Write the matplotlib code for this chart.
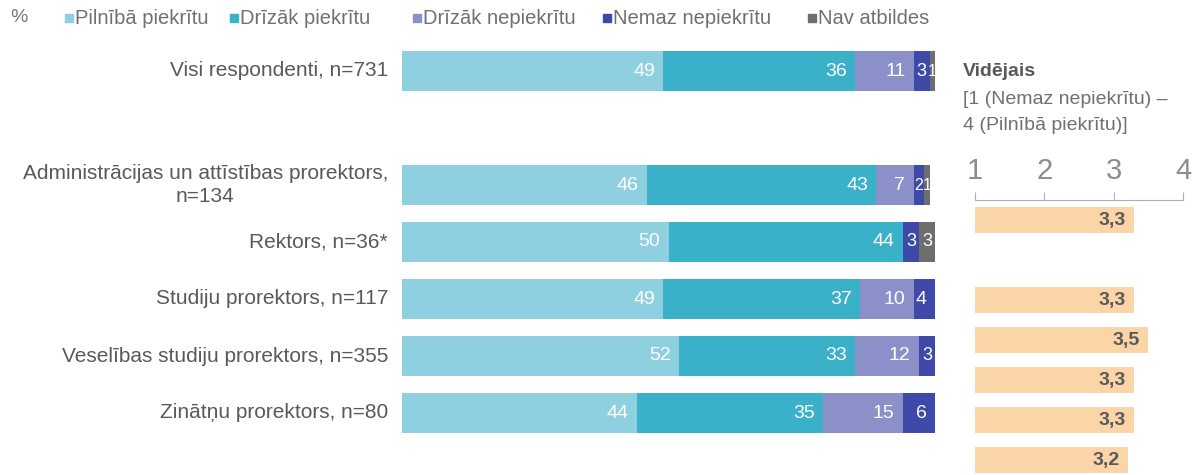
import matplotlib
matplotlib.use("Agg")
import matplotlib.pyplot as plt
import numpy as np

plt.rcParams['font.family'] = ['Liberation Sans', 'DejaVu Sans']

# dati
kategorijas = [
    "Visi respondenti, n=731",
    "Administrācijas un attīstības prorektors,\nn=134",
    "Rektors, n=36*",
    "Studiju prorektors, n=117",
    "Veselības studiju prorektors, n=355",
    "Zinātņu prorektors, n=80",
]
atbildes = ["Pilnībā piekrītu", "Drīzāk piekrītu", "Drīzāk nepiekrītu",
            "Nemaz nepiekrītu", "Nav atbildes"]
pilniba = [49, 46, 50, 49, 52, 44]
drizak_piekr = [36, 43, 44, 37, 33, 35]
drizak_nepiekr = [11, 7, 0, 10, 12, 15]
nemaz = [3, 2, 3, 4, 3, 6]
nav_atb = [1, 1, 3, 0, 0, 0]
videjais = [3.3, 3.3, 3.5, 3.3, 3.3, 3.2]

krasas = ["#8fd0e0", "#3bb0c9", "#8b90c9", "#3f4aa8", "#6e6e6e"]
pelēks = "#595959"

W, H = 1192, 475
fig = plt.figure(figsize=(W / 100, H / 100), dpi=100)

# kreisais panelis - sadalījums %
unit, y0 = 57, 71
ax = fig.add_axes([402 / W, 0, 533 / W, 1])
ypos = np.array([0, 2, 3, 4, 5, 6])
serijas = [pilniba, drizak_piekr, drizak_nepiekr, nemaz, nav_atb]
left = np.zeros(len(kategorijas))
for vals, c in zip(serijas, krasas):
    vals = np.array(vals, dtype=float)
    ax.barh(ypos, vals, left=left, height=0.70, color=c, edgecolor="none")
    for y, l, v in zip(ypos, left, vals):
        if v <= 0:
            continue
        if v <= 3:
            # šauriem segmentiem - centrā
            ax.text(l + v / 2, y, f"{v:.0f}", color="white",
                    fontsize=13 if v >= 3 else 11.5,
                    ha="center", va="center")
        else:
            ax.annotate(f"{v:.0f}", (l + v, y), xytext=(-6, 0),
                        textcoords="offset points", color="white",
                        fontsize=14, ha="right", va="center")
    left += vals
ax.set_xlim(0, 100)
ax.set_ylim((H - y0) / unit, -y0 / unit)
ax.axis("off")
for y, lab in zip(ypos, kategorijas):
    ax.annotate(lab, (0, y), xytext=(-10, 0), textcoords="offset points",
                ha="right", va="center", fontsize=15, color=pelēks,
                multialignment="center", annotation_clip=False,
                linespacing=1.25)

# leģenda
ly = 1 - 18 / H
fig.text(10 / W, ly, "%", fontsize=14, color="#777777", va="center")
leg_x = [65, 230, 413, 603, 808]
for x, lab, c in zip(leg_x, atbildes, krasas):
    fig.patches.append(plt.Rectangle((x / W, ly - 4 / H), 8 / W, 8 / H,
                                     transform=fig.transFigure, color=c))
    fig.text((x + 10) / W, ly, lab, fontsize=14.5, color="#707070",
             va="center")

# labais panelis - vidējais
unit2, y2 = 40, 220
ax2 = fig.add_axes([975 / W, 0, 208 / W, (H - 200) / H])
ypos2 = np.array([0, 2, 3, 4, 5, 6])
ax2.barh(ypos2, np.array(videjais) - 1, left=1, height=0.67,
         color="#fbd4a7", edgecolor="none")
for y, v in zip(ypos2, videjais):
    ax2.annotate(f"{v:.1f}".replace(".", ","), (v, y), xytext=(-6, 0),
                 textcoords="offset points", ha="right", va="center",
                 fontsize=14, fontweight="bold", color=pelēks)
ax2.set_xlim(1, 4)
ax2.set_ylim((H - y2) / unit2, (200 - y2) / unit2)
for s in ["left", "right", "bottom"]:
    ax2.spines[s].set_visible(False)
ax2.spines["top"].set_color("#b0b0b0")
ax2.xaxis.tick_top()
ax2.set_xticks([1, 2, 3, 4])
ax2.tick_params(axis="x", direction="out", length=6, color="#b0b0b0",
                labelsize=21, labelcolor="#8c8c8c", pad=5)
ax2.set_yticks([])

fig.text(963 / W, 1 - 72 / H, "Vidējais", fontsize=14, fontweight="bold",
         color=pelēks, va="center")
fig.text(963 / W, 1 - 99 / H, "[1 (Nemaz nepiekrītu) –", fontsize=14,
         color="#707070", va="center")
fig.text(963 / W, 1 - 126 / H, "4 (Pilnībā piekrītu)]", fontsize=14,
         color="#707070", va="center")

fig.savefig("out.png", dpi=100)
